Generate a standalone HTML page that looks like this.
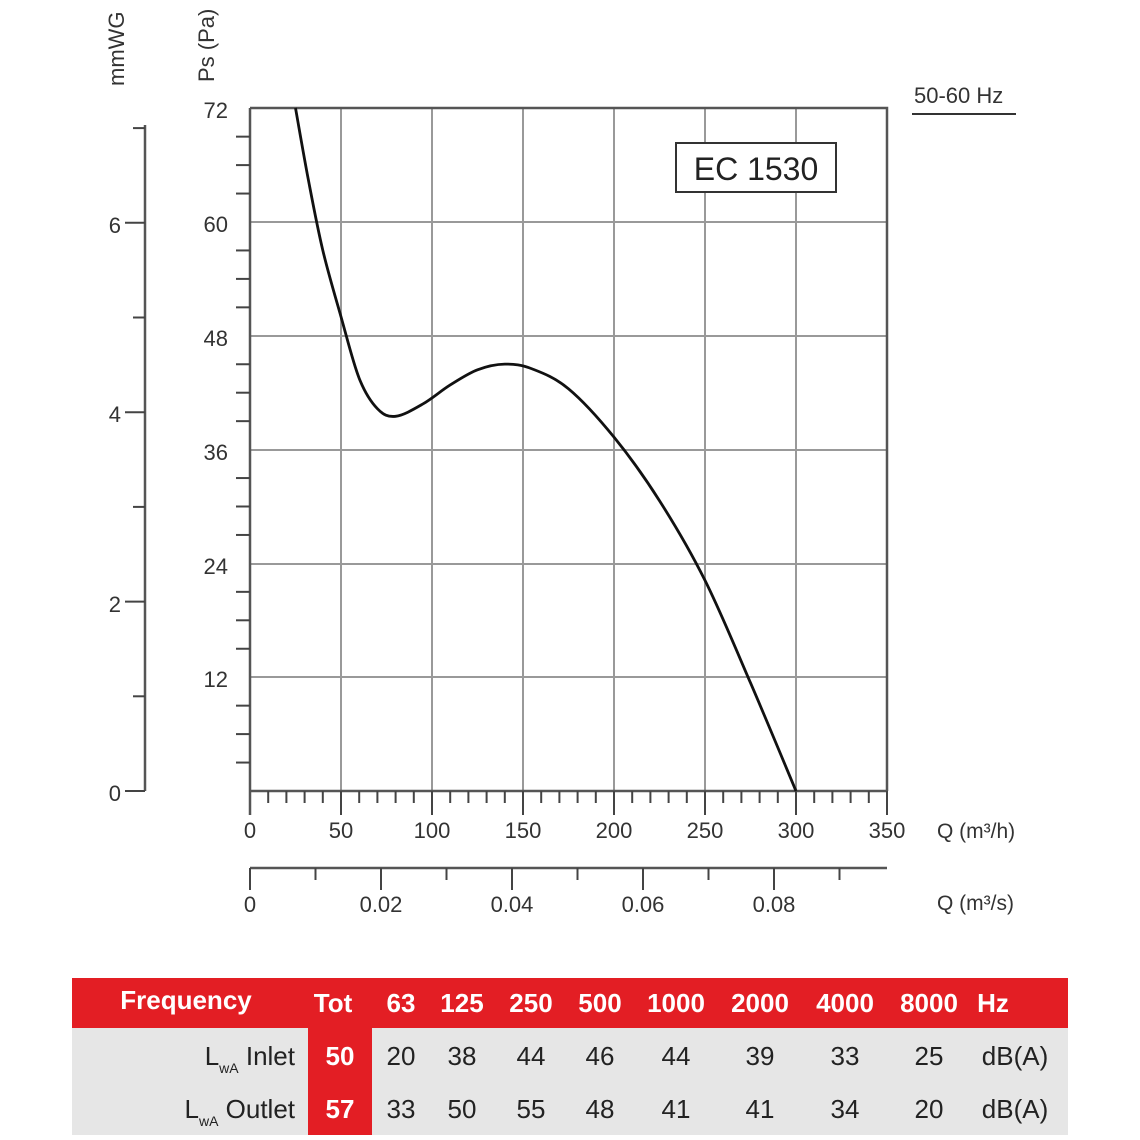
<!DOCTYPE html>
<html><head><meta charset="utf-8"><style>
html,body{margin:0;padding:0;background:#fff;}
svg{display:block;font-family:"Liberation Sans",Arial,sans-serif;}
</style></head><body>
<svg id="s" width="1140" height="1140" viewBox="0 0 1140 1140" xmlns="http://www.w3.org/2000/svg">
<text transform="translate(124,86) rotate(-90)" font-size="22" fill="#333">mmWG</text>
<text transform="translate(214,82) rotate(-90)" font-size="22" fill="#333">Ps (Pa)</text>
<g stroke="#999" stroke-width="2">
<line x1="341" y1="108" x2="341" y2="791"/><line x1="432" y1="108" x2="432" y2="791"/>
<line x1="523" y1="108" x2="523" y2="791"/><line x1="614" y1="108" x2="614" y2="791"/>
<line x1="705" y1="108" x2="705" y2="791"/><line x1="796" y1="108" x2="796" y2="791"/>
<line x1="250" y1="222" x2="887" y2="222"/><line x1="250" y1="336" x2="887" y2="336"/>
<line x1="250" y1="450" x2="887" y2="450"/><line x1="250" y1="564" x2="887" y2="564"/>
<line x1="250" y1="677" x2="887" y2="677"/>
</g>
<g stroke="#555" stroke-width="2.5" fill="none">
<polyline points="250,108 887,108 887,791"/>
<line x1="250" y1="108" x2="250" y2="815"/>
<line x1="250" y1="791" x2="887" y2="791"/>
<line x1="145" y1="125" x2="145" y2="791"/>
<line x1="250" y1="868" x2="887" y2="868"/>
</g>
<g id="ticks" stroke="#444" stroke-width="2"></g>
<g font-size="22" fill="#333" text-anchor="end">
<text x="228" y="118">72</text><text x="228" y="232">60</text><text x="228" y="346">48</text>
<text x="228" y="460">36</text><text x="228" y="574">24</text><text x="228" y="687">12</text>
<text x="121" y="801">0</text><text x="121" y="612">2</text><text x="121" y="422">4</text><text x="121" y="233">6</text>
</g>
<g font-size="22" fill="#333" text-anchor="middle">
<text x="250" y="838">0</text><text x="341" y="838">50</text><text x="432" y="838">100</text>
<text x="523" y="838">150</text><text x="614" y="838">200</text><text x="705" y="838">250</text>
<text x="796" y="838">300</text><text x="887" y="838">350</text>
<text x="250" y="912">0</text><text x="381" y="912">0.02</text><text x="512" y="912">0.04</text>
<text x="643" y="912">0.06</text><text x="774" y="912">0.08</text>
</g>
<text x="937" y="838" font-size="21" fill="#333">Q (m³/h)</text>
<text x="937" y="910" font-size="21" fill="#333">Q (m³/s)</text>
<text x="914" y="103" font-size="22" fill="#333">50-60 Hz</text>
<line x1="912" y1="114" x2="1016" y2="114" stroke="#333" stroke-width="2"/>
<rect x="676" y="143" width="160" height="49" fill="#fff" stroke="#333" stroke-width="2"/>
<text x="756" y="180" font-size="32" fill="#222" text-anchor="middle">EC 1530</text>
<path id="curve" fill="none" stroke="#111" stroke-width="2.8"/>
<rect x="72" y="978" width="996" height="50" fill="#e31e24"/>
<rect x="72" y="1028" width="996" height="107" fill="#e6e6e6"/>
<rect x="308" y="1028" width="64" height="107" fill="#e31e24"/>
<g font-size="26" font-weight="bold" fill="#fff" text-anchor="middle">
<text x="186" y="1009">Frequency</text><text x="333" y="1012">Tot</text><text x="401" y="1012">63</text>
<text x="462" y="1012">125</text><text x="531" y="1012">250</text><text x="600" y="1012">500</text>
<text x="676" y="1012">1000</text><text x="760" y="1012">2000</text><text x="845" y="1012">4000</text>
<text x="929" y="1012">8000</text><text x="993" y="1012">Hz</text>
<text x="340" y="1065">50</text><text x="340" y="1118">57</text>
</g>
<g font-size="26" fill="#222" text-anchor="middle">
<text x="401" y="1065">20</text><text x="462" y="1065">38</text><text x="531" y="1065">44</text><text x="600" y="1065">46</text>
<text x="676" y="1065">44</text><text x="760" y="1065">39</text><text x="845" y="1065">33</text><text x="929" y="1065">25</text>
<text x="1015" y="1065">dB(A)</text>
<text x="401" y="1118">33</text><text x="462" y="1118">50</text><text x="531" y="1118">55</text><text x="600" y="1118">48</text>
<text x="676" y="1118">41</text><text x="760" y="1118">41</text><text x="845" y="1118">34</text><text x="929" y="1118">20</text>
<text x="1015" y="1118">dB(A)</text>
</g>
<g font-size="26" fill="#222" text-anchor="end">
<text x="295" y="1065"><tspan>L</tspan><tspan font-size="14" dy="8">wA</tspan><tspan dy="-8"> Inlet</tspan></text>
<text x="295" y="1118"><tspan>L</tspan><tspan font-size="14" dy="8">wA</tspan><tspan dy="-8"> Outlet</tspan></text>
</g>
</svg>
<script>
var g=document.getElementById('ticks'),s='';
function L(a,b,c,d){s+='<line x1="'+a+'" y1="'+b+'" x2="'+c+'" y2="'+d+'"/>';}
for(var i=1;i<24;i++){var y=791-i*28.45;if(i%4)L(236,y,250,y);}
for(var i=0;i<=7;i++){var y=791-i*94.7;L(i%2?133:125,y,145,y);}
for(var i=1;i<35;i++){var x=250+i*18.2;if(i%5)L(x,791,x,803);else L(x,791,x,815);}
L(887,791,887,815);
for(var i=0;i<=9;i++){var x=250+i*65.5;L(x,868,x,i%2?880:890);}
g.innerHTML=s;
var P=[[25,72],[32,64.5],[40,57],[50,50],[60,43.5],[70,40.3],[80,39.5],[95,40.8],[110,42.8],[125,44.4],[140,45],[155,44.5],[175,42.4],[200,37.3],[225,30.6],[250,22.2],[275,11.4],[300,0]];
var pts=P.map(function(p){return[250+p[0]*1.82,791-p[1]*9.486];});
var d='M'+pts[0][0]+','+pts[0][1];
for(var i=0;i<pts.length-1;i++){var p0=pts[Math.max(0,i-1)],p1=pts[i],p2=pts[i+1],p3=pts[Math.min(pts.length-1,i+2)];
d+=' C'+(p1[0]+(p2[0]-p0[0])/6)+','+(p1[1]+(p2[1]-p0[1])/6)+' '+(p2[0]-(p3[0]-p1[0])/6)+','+(p2[1]-(p3[1]-p1[1])/6)+' '+p2[0]+','+p2[1];}
document.getElementById('curve').setAttribute('d',d);
</script>
</body></html>
